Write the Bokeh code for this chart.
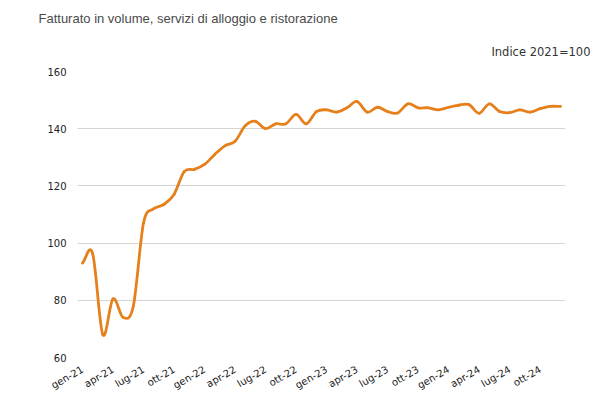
import numpy as np
from bokeh.models import FixedTicker, Range1d, Title
from bokeh.plotting import figure
from bokeh.embed import file_html
from bokeh.resources import INLINE

# monthly index, 2021=100
months = ["gen", "feb", "mar", "apr", "mag", "giu",
          "lug", "ago", "set", "ott", "nov", "dic"]
years = ["21", "22", "23", "24"]
labels = [f"{m}-{y}" for y in years for m in months]

v2021 = [93, 96.3, 68, 80.5, 74, 78, 107, 112, 113.5, 117, 125, 125.8]
v2022 = [127.5, 131, 134, 135.6, 141, 142.6, 140, 141.7, 141.7, 145, 141.7, 146]
v2023 = [146.6, 145.8, 147.3, 149.5, 145.8, 147.5, 146, 145.5, 148.7, 147.3, 147.3, 146.6]
v2024 = [147.5, 148.2, 148.4, 145.4, 148.7, 146, 145.6, 146.6, 145.8, 147, 147.8, 147.8]
values = v2021 + v2022 + v2023 + v2024

y_ticks = [60, 80, 100, 120, 140, 160]

ORANGE = "#e6801c"

p = figure(width=598, height=400, output_backend="svg", toolbar_location=None,
           tools="", x_range=Range1d(-0.49, len(values) - 0.51),
           y_range=Range1d(60, 160),
           min_border_left=77, min_border_right=33, min_border_bottom=43)
p.outline_line_color = None

p.title.text = "Fatturato in volume, servizi di alloggio e ristorazione"
p.title.text_font = "Liberation Sans"
p.title.text_font_size = "13px"
p.title.text_font_style = "normal"
p.title.text_color = "#4a4a4a"
p.title.offset = -39
p.title.standoff = 16

sub = Title(text="Indice 2021=100", align="right", text_font="DejaVu Sans",
            text_font_size="11.5px", text_font_style="normal",
            text_color="#333333", offset=-25, standoff=22,
            vertical_align="top")
p.add_layout(sub, "above")

# smooth curve through the monthly points (cubic bezier per segment)
x = np.arange(len(values), dtype=float)
y = np.array(values, dtype=float)
m = np.gradient(y)
p.bezier(x0=x[:-1], y0=y[:-1], x1=x[1:], y1=y[1:],
         cx0=x[:-1] + 1 / 3, cy0=y[:-1] + m[:-1] / 3,
         cx1=x[1:] - 1 / 3, cy1=y[1:] - m[1:] / 3,
         line_color=ORANGE, line_width=2.8, line_cap="round")

p.xaxis.ticker = FixedTicker(ticks=list(range(0, len(values), 3)))
p.xaxis.major_label_overrides = {i: labels[i] for i in range(0, len(values), 3)}
p.xaxis.major_label_orientation = np.pi / 6
p.yaxis.ticker = FixedTicker(ticks=y_ticks)

for ax in (p.xaxis, p.yaxis):
    ax.axis_line_color = None
    ax.major_tick_line_color = None
    ax.minor_tick_line_color = None
    ax.major_label_text_font = "DejaVu Sans"
    ax.major_label_text_font_size = "10px"
    ax.major_label_text_color = "#222222"
    ax.major_label_standoff = 5

p.xgrid.grid_line_color = None
p.ygrid.grid_line_color = "#d4d4d4"
p.ygrid.grid_line_width = 1

open("out.html", "w").write(file_html(p, INLINE))
